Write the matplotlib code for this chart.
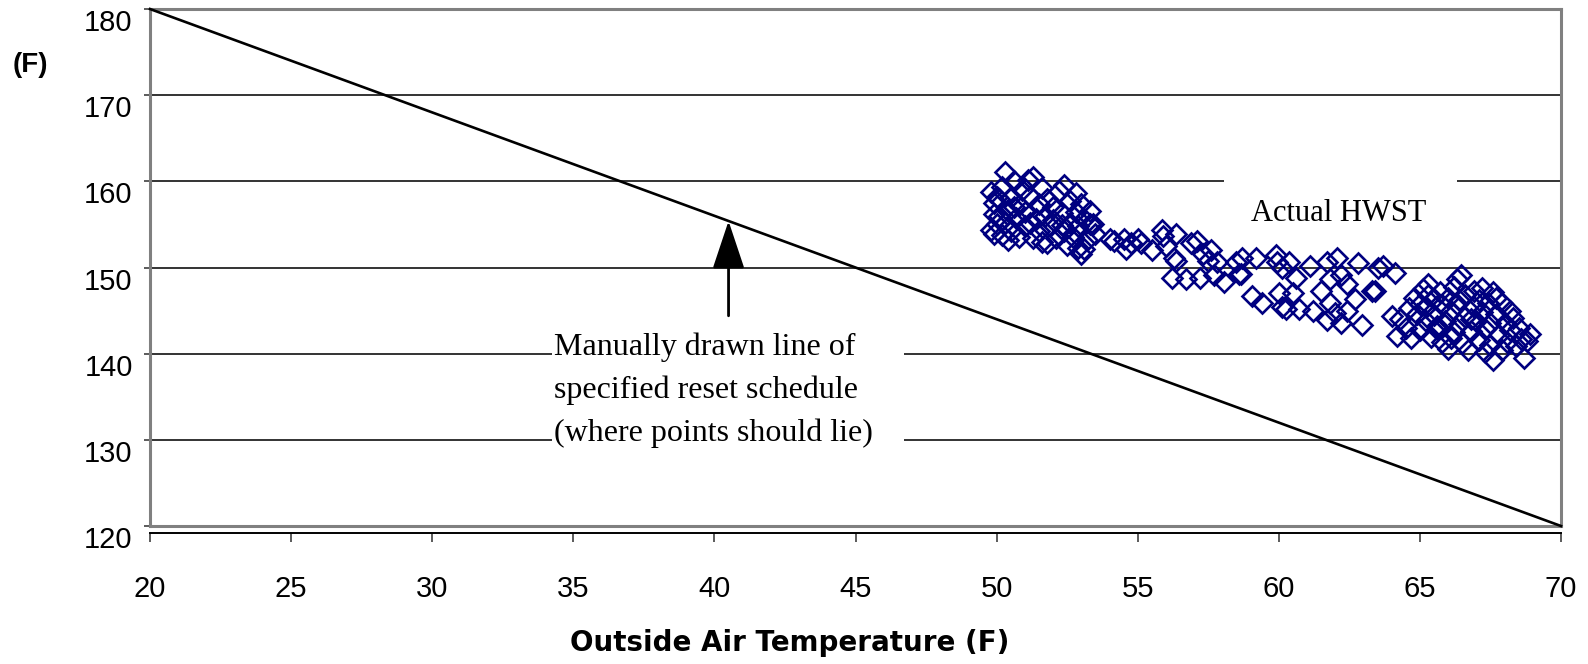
import matplotlib
matplotlib.use("Agg")
import matplotlib.pyplot as plt
from matplotlib.patches import Rectangle

# === data ===
schedule_x = [20, 70]
schedule_y = [180, 120]

cluster_a_x = [49.8, 49.9, 49.9, 49.8, 50.0, 50.1, 50.2, 50.3, 50.2, 50.4, 50.5, 50.5, 50.6, 50.7,
               50.8, 50.8, 50.9, 51.0, 51.0, 51.1, 51.2, 51.3, 51.3, 51.4, 51.5, 51.5, 51.6, 51.7,
               51.8, 51.8, 51.9, 52.0, 52.0, 52.1, 52.2, 52.3, 52.4, 52.4, 52.5, 52.6, 52.6, 52.7,
               52.8, 52.8, 52.9, 52.9, 53.0, 53.0, 53.1, 53.2, 53.3, 53.3, 53.1, 50.1, 50.3, 50.6,
               51.2, 51.6, 52.3, 50.0, 49.9, 50.4]
cluster_a_y = [158.8, 157.5, 156.2, 154.4, 155.0, 157.9, 159.3, 161.1, 153.8, 156.6, 154.2, 158.2, 160.0, 155.8,
               157.2, 153.6, 159.0, 154.8, 156.4, 160.2, 158.3, 153.4, 160.5, 155.6, 157.4, 154.2, 159.2, 156.0,
               152.9, 158.0, 154.8, 157.0, 155.5, 153.4, 158.9, 156.3, 159.6, 154.2, 152.6, 157.7, 155.2, 153.6,
               158.6, 156.5, 154.8, 152.3, 157.4, 151.6, 155.6, 153.2, 155.1, 156.6, 152.2, 156.0, 155.2, 157.0,
               155.2, 153.0, 154.9, 158.2, 153.9, 153.2]

cluster_b_x = [53.4, 53.5, 54.0, 54.15, 54.5, 54.6, 54.75, 55.0, 55.1, 55.5, 55.85, 55.9, 56.0, 56.35,
               56.3, 56.35, 56.2, 56.7, 56.9, 57.1, 57.2, 57.3, 57.6, 57.5, 57.8, 57.7, 58.05, 58.5,
               58.6, 58.7, 58.65, 59.2, 59.05, 59.4, 59.9, 59.95, 60.1, 60.35, 60.0, 60.1, 60.25, 60.6,
               60.5, 60.7, 61.1, 61.2, 61.7, 61.8, 61.5, 62.05, 62.2, 62.4, 61.8, 62.0, 61.7, 62.2,
               62.4, 62.7, 62.8, 62.95, 63.3, 63.5, 63.7, 64.1, 63.4]
cluster_b_y = [155.1, 153.9, 153.3, 153.1, 153.3, 152.2, 152.8, 153.3, 152.9, 152.0, 154.3, 153.7, 152.5, 153.9,
               151.1, 150.8, 148.8, 148.7, 152.9, 153.1, 148.8, 151.6, 152.0, 150.8, 150.6, 149.1, 148.3, 150.6,
               149.3, 151.1, 149.3, 151.1, 146.7, 145.9, 151.4, 150.6, 149.9, 150.6, 147.0, 145.4, 145.2, 148.8,
               147.0, 145.2, 150.2, 145.0, 150.6, 148.7, 147.3, 151.1, 149.1, 148.1, 145.9, 144.7, 143.9, 143.6,
               145.0, 146.4, 150.5, 143.3, 147.3, 150.0, 150.2, 149.4, 147.3]

cluster_c_x = [64.0, 64.2, 64.3, 64.5, 64.7, 64.6, 64.8, 64.9, 65.0, 65.1, 65.2, 65.2, 65.3, 65.4,
               65.5, 65.5, 65.6, 65.7, 65.8, 65.8, 65.9, 66.0, 66.0, 66.1, 66.2, 66.2, 66.3, 66.3,
               66.4, 66.45, 66.5, 66.6, 66.6, 66.7, 66.8, 66.9, 66.9, 67.0, 67.1, 67.1, 67.2, 67.3,
               67.3, 67.4, 67.5, 67.5, 67.6, 67.6, 67.7, 67.7, 67.8, 67.9, 67.9, 68.0, 68.1, 68.2,
               68.2, 68.3, 68.4, 68.5, 68.6, 68.7, 68.8, 68.9, 65.0, 65.6, 66.1, 66.8, 67.2, 66.4,
               65.3]
cluster_c_y = [144.4, 142.0, 144.0, 143.0, 141.8, 145.3, 146.5, 144.6, 142.7, 147.5, 145.4, 143.8, 148.1, 141.9,
               146.3, 144.5, 142.9, 147.2, 145.6, 141.3, 143.8, 146.5, 140.5, 144.9, 147.7, 142.5, 148.7, 145.8,
               143.4, 149.1, 141.2, 146.8, 144.3, 140.4, 142.6, 145.4, 147.3, 143.8, 141.6, 146.2, 144.8, 140.2,
               142.9, 145.9, 143.6, 141.0, 139.3, 147.2, 146.5, 144.6, 142.2, 145.9, 140.4, 143.6, 141.3, 145.0,
               142.7, 144.1, 140.9, 143.0, 141.7, 139.5, 141.5, 142.3, 145.8, 143.2, 141.8, 144.0, 147.6, 146.2,
               146.8]

hwst_x = cluster_a_x + cluster_b_x + cluster_c_x
hwst_y = cluster_a_y + cluster_b_y + cluster_c_y

x_ticks = [20, 25, 30, 35, 40, 45, 50, 55, 60, 65, 70]
y_ticks = [120, 130, 140, 150, 160, 170, 180]

note_lines = ["Manually drawn line of", "specified reset schedule", "(where points should lie)"]
note_baselines = [139.8, 134.85, 129.9]

# === figure ===
fig = plt.figure(figsize=(15.88, 6.64), dpi=100)
ax = fig.add_axes([0.0945, 0.2078, 0.8885, 0.7786])
ax.set_xlim(20, 70)
ax.set_ylim(120, 180)

for yv in y_ticks[1:-1]:
    ax.axhline(yv, color="#111111", lw=1.2, zorder=1)

# white text boxes that hide the gridlines
ax.add_patch(Rectangle((34.25, 128.3), 12.45, 15.5, facecolor="white", edgecolor="none", zorder=2))
ax.add_patch(Rectangle((58.05, 152.6), 8.25, 8.8, facecolor="white", edgecolor="none", zorder=2))

ax.plot(schedule_x, schedule_y, color="black", lw=1.9, zorder=4, clip_on=False)
ax.plot(hwst_x, hwst_y, ls="none", marker="D", ms=10.5, mfc="none", mec="#000080", mew=1.9, zorder=5)

ax.annotate("", xy=(40.5, 155.4), xytext=(40.5, 144.4),
            arrowprops=dict(arrowstyle="-|>,head_length=1.5,head_width=0.5", mutation_scale=20,
                            lw=2, color="black", shrinkA=0, shrinkB=0), zorder=6)

for line, yb in zip(note_lines, note_baselines):
    ax.text(34.3, yb, line, fontsize=23, family="Liberation Serif", va="baseline", ha="left", zorder=7)
ax.text(59.0, 155.35, "Actual HWST", fontsize=22, family="Liberation Serif", va="baseline", ha="left", zorder=7)

# axes styling
for side in ["top", "right", "left"]:
    ax.spines[side].set_color("#808080")
    ax.spines[side].set_linewidth(2.2)
ax.spines["bottom"].set_position(("outward", 5))
ax.spines["bottom"].set_color("black")
ax.spines["bottom"].set_linewidth(1.4)
ax.axhline(120, color="#808080", lw=2.2, zorder=3, clip_on=False)

ax.set_xticks(x_ticks)
ax.set_yticks(y_ticks)
ax.tick_params(axis="x", direction="out", length=6.5, width=1.2, color="#404040",
               labelsize=21, pad=24)
ax.tick_params(axis="y", direction="out", length=4.5, width=1.2, color="#404040",
               labelsize=21, pad=8)
for lab in ax.get_xticklabels() + ax.get_yticklabels():
    lab.set_family("Liberation Sans")
for lab in ax.get_yticklabels():
    lab.set_va("top")

fig.text(0.0192, 0.902, "(F)", fontsize=20, fontweight="bold", family="Liberation Sans",
         ha="center", va="center")
fig.text(0.4975, 0.032, "Outside Air Temperature (F)", fontsize=20, fontweight="bold",
         family="DejaVu Sans", ha="center", va="center")

fig.savefig("out.png", dpi=100)
